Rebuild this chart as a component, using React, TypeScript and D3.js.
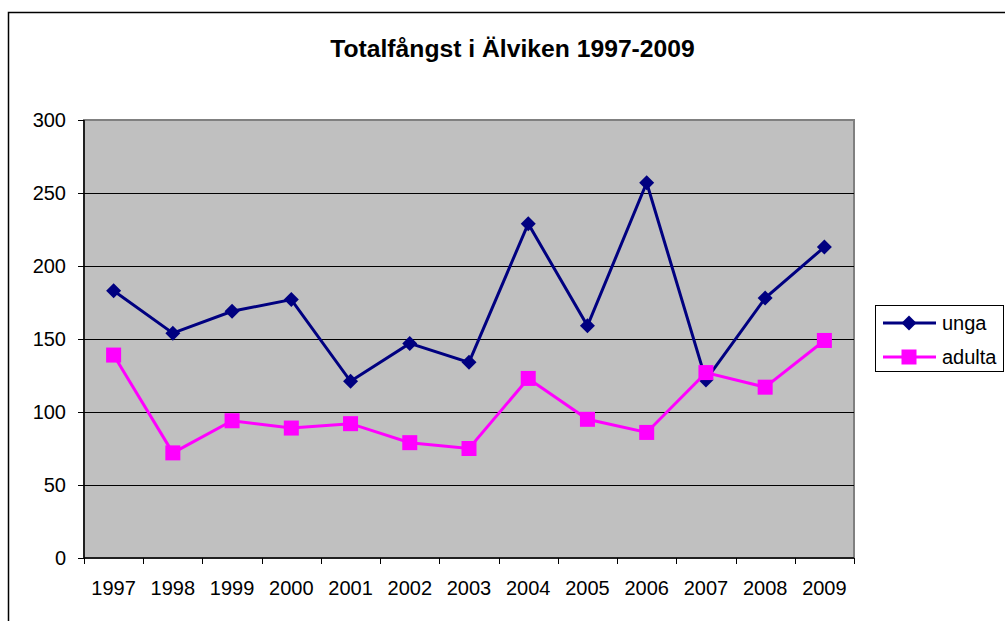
import React from "react";
import * as d3 from "d3";

const years = ["1997","1998","1999","2000","2001","2002","2003","2004","2005","2006","2007","2008","2009"];
const unga = [183, 154, 169, 177, 121, 147, 134, 229, 159, 257, 122, 178, 213];
const adulta = [139, 72, 94, 89, 92, 79, 75, 123, 95, 86, 127, 117, 149];
const yTicks = [0, 50, 100, 150, 200, 250, 300];
const title = "Totalfångst i Älviken 1997-2009";
const seriesNames = ["unga", "adulta"];

const W = 1005, H = 621;
const left = 84, right = 854, top = 120, bottom = 558;
const font = "'Liberation Sans', Arial, sans-serif";

export default function App() {
  const x = d3.scaleBand<string>().domain(years).range([left, right]);
  const y = d3.scaleLinear().domain([0, 300]).range([bottom, top]);
  const line = d3.line<number>().x((_, i) => x(years[i])! + x.bandwidth() / 2).y(d => y(d));
  const cx = (i: number) => x(years[i])! + x.bandwidth() / 2;
  const crisp = (v: number) => Math.round(v) + 0.5;
  const navy = "#000080", mag = "#FF00FF";
  const diamond = (px: number, py: number, r: number) =>
    `M${px},${py - r}L${px + r},${py}L${px},${py + r}L${px - r},${py}Z`;
  return (
    <svg width={W} height={H} style={{ position: "absolute", left: 0, top: 0 }}>
      <rect x={0} y={0} width={W} height={H} fill="#fff" />
      <rect x={8.5} y={12.5} width={W + 10} height={H + 10} fill="#fff" stroke="#000" strokeWidth={1.5} />
      <text x={512.5} y={57} textAnchor="middle" fontFamily={font} fontWeight="bold" fontSize={24.7} fill="#000">{title}</text>
      <rect x={left} y={top} width={right - left} height={bottom - top} fill="#C0C0C0" stroke="#808080" strokeWidth={2} />
      {yTicks.map(t => (
        <g key={t}>
          {t > 0 && t < 300 && <line x1={left} x2={right} y1={crisp(y(t))} y2={crisp(y(t))} stroke="#000" strokeWidth={1} />}
          <line x1={left - 6} x2={left} y1={crisp(y(t))} y2={crisp(y(t))} stroke="#000" strokeWidth={1} />
          <text x={left - 18} y={y(t) + 7} textAnchor="end" fontFamily={font} fontSize={20} fill="#000">{t}</text>
        </g>
      ))}
      <line x1={left} x2={left} y1={top} y2={bottom} stroke="#000" strokeWidth={1.5} />
      <line x1={left} x2={right} y1={bottom} y2={bottom} stroke="#000" strokeWidth={1.5} />
      {years.map((yr, i) => (
        <g key={yr}>
          <line x1={crisp(x(yr)!)} x2={crisp(x(yr)!)} y1={bottom} y2={bottom + 6} stroke="#000" strokeWidth={1} />
          <text x={cx(i)} y={bottom + 37} textAnchor="middle" fontFamily={font} fontSize={20} fill="#000">{yr}</text>
        </g>
      ))}
      <line x1={crisp(right)} x2={crisp(right)} y1={bottom} y2={bottom + 6} stroke="#000" strokeWidth={1} />
      <path d={line(unga)!} fill="none" stroke={navy} strokeWidth={3} />
      {unga.map((v, i) => <path key={i} d={diamond(cx(i), y(v), 7.5)} fill={navy} />)}
      <path d={line(adulta)!} fill="none" stroke={mag} strokeWidth={3} />
      {adulta.map((v, i) => <rect key={i} x={cx(i) - 7.5} y={y(v) - 7.5} width={15} height={15} fill={mag} />)}
      <rect x={875.5} y={305.5} width={128} height={66} fill="#fff" stroke="#000" strokeWidth={1} />
      {seriesNames.map((n, i) => {
        const ly = 323 + i * 34;
        const c = i === 0 ? navy : mag;
        return (
          <g key={n}>
            <line x1={883} x2={936} y1={ly} y2={ly} stroke={c} strokeWidth={3} />
            {i === 0 ? <path d={diamond(909, ly, 7.5)} fill={c} /> : <rect x={901.5} y={ly - 7.5} width={15} height={15} fill={c} />}
            <text x={942} y={ly + 7} fontFamily={font} fontSize={20} fill="#000">{n}</text>
          </g>
        );
      })}
    </svg>
  );
}
